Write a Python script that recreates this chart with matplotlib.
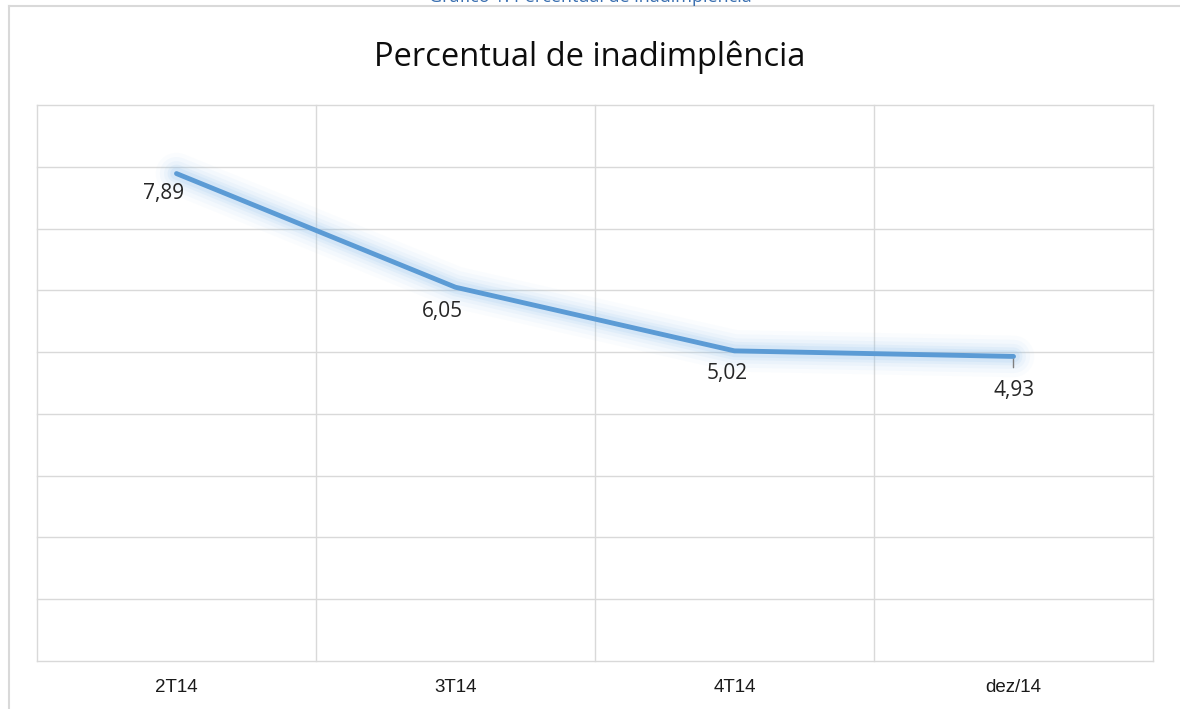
import numpy as np
import matplotlib
matplotlib.use('Agg')
import matplotlib.pyplot as plt
from matplotlib.lines import Line2D

# dados
categorias = ['2T14', '3T14', '4T14', 'dez/14']
valores = [7.89, 6.05, 5.02, 4.93]
rotulos = ['7,89', '6,05', '5,02', '4,93']
titulo = 'Percentual de inadimplência'
legenda_fig = 'Gráfico 1: Percentual de inadimplência'

W, H = 1180, 709
fig = plt.figure(figsize=(W / 100, H / 100), dpi=100)
fig.patch.set_facecolor('white')

# moldura externa do gráfico
fig.add_artist(Line2D([9 / W, 9 / W], [0, 1 - 6 / H], transform=fig.transFigure,
                      color='#d9d9d9', lw=1.5))
fig.add_artist(Line2D([9 / W, 1], [1 - 6 / H, 1 - 6 / H], transform=fig.transFigure,
                      color='#d9d9d9', lw=1.5))

# legenda cortada no topo (como no original)
fig.text(0.5, 1.0 + 3 / H, legenda_fig, ha='center', va='center',
         fontsize=13, color='#3a6fb0', family='Open Sans')

ax = fig.add_axes([37 / W, 1 - 661 / H, (1153 - 37) / W, (661 - 105) / H])
x = np.arange(len(categorias))
ax.set_xlim(-0.5, len(categorias) - 0.5)
ax.set_ylim(0, 9)

# grade
for yv in range(0, 10):
    ax.axhline(yv, color='#d9d9d9', lw=1, zorder=0, clip_on=False)
for xv in np.arange(-0.5, len(categorias), 1):
    ax.axvline(xv, color='#d9d9d9', lw=1, zorder=0, clip_on=False)
for s in ax.spines.values():
    s.set_visible(False)

# brilho em volta da linha
for lw, a in [(30, 0.04), (24, 0.06), (18, 0.08), (13, 0.11), (9, 0.14)]:
    ax.plot(x, valores, color='#8fc1ee', lw=lw, alpha=a, solid_capstyle='round',
            solid_joinstyle='round', zorder=2)
ax.plot(x, valores, color='#5b9bd5', lw=3.5, solid_capstyle='round',
        solid_joinstyle='round', zorder=3)

# rótulos de dados
offs = [(-13, -20), (-13, -24), (-7, -23), (1, -34)]
for xi, v, r, (dx, dy) in zip(x, valores, rotulos, offs):
    ax.annotate(r, (xi, v), xytext=(dx, dy), textcoords='offset pixels',
                ha='center', va='center', fontsize=15, family='Open Sans',
                color='#262626', zorder=4)
# linha guia do último rótulo
ax.annotate('', (x[-1], valores[-1]), xytext=(0, -14), textcoords='offset pixels',
            arrowprops=dict(arrowstyle='-', color='#7f7f7f', lw=1))

ax.set_xticks(x)
ax.set_xticklabels(categorias, fontsize=13.5, family='Liberation Sans', color='#1a1a1a')
ax.tick_params(axis='x', length=0, pad=13)
ax.set_yticks([])

fig.text(0.5, 1 - 57 / H, titulo, ha='center', va='center', fontsize=23.5,
         family='Open Sans', color='#0d0d0d')

fig.savefig('out.png', dpi=100, facecolor='white')
